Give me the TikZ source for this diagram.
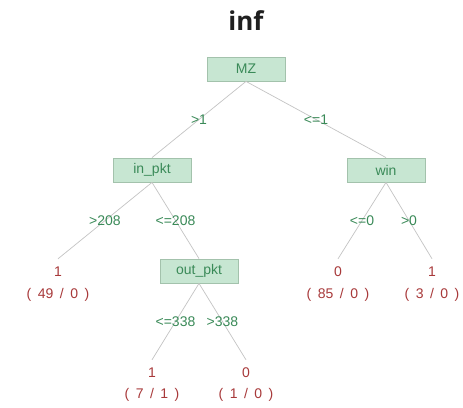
\documentclass[tikz,border=0pt]{standalone}
\usepackage{fontspec}
\setmainfont{Liberation Sans}
\newfontfamily\titlefont{Open Sans}
\definecolor{boxfill}{HTML}{C7E6D2}
\definecolor{boxdraw}{HTML}{A3C2AC}
\definecolor{condgreen}{HTML}{3A8A58}
\definecolor{leafred}{HTML}{A8393A}
\definecolor{edgegrey}{HTML}{C4C4C4}
\newcommand\gp{\hspace{6.5pt}}
\begin{document}
\begin{tikzpicture}[x=1pt,y=-1pt,
  splitbox/.style={draw=boxdraw, fill=boxfill, line width=0.8pt, minimum width=78pt, minimum height=24pt, inner sep=0pt, text=condgreen, font=\fontsize{14}{16}\selectfont},
  leafval/.style={minimum height=26pt, inner sep=0pt, text=leafred, font=\fontsize{14}{16}\selectfont},
  leafcnt/.style={inner sep=0pt, text=leafred, font=\fontsize{14}{16}\selectfont},
  edge/.style={draw=edgegrey, line width=0.7pt},
  cond/.style={midway, inner sep=0pt, text=condgreen, font=\fontsize{14}{16}\selectfont}]
\useasboundingbox (0,0) rectangle (463,407);
\fill[white] (0,0) rectangle (463,407);
\node[font=\titlefont\bfseries\fontsize{26}{30}\selectfont, text=black!88] (title) at (246,21) {inf};
\node[splitbox] (mz) at (246,69) {MZ};
\node[splitbox] (inpkt) at (152,170) {in\_pkt};
\node[splitbox] (win) at (386,170) {win};
\node[splitbox] (outpkt) at (199,271) {out\_pkt};
\node[leafval] (l1) at (58,272) {1};
\node[leafcnt] (c1) at (58,295) {(\gp49\gp/\gp0\gp)};
\node[leafval] (l2) at (152,373) {1};
\node[leafcnt] (c2) at (152,395) {(\gp7\gp/\gp1\gp)};
\node[leafval] (l3) at (246,373) {0};
\node[leafcnt] (c3) at (246,395) {(\gp1\gp/\gp0\gp)};
\node[leafval] (l4) at (338,272) {0};
\node[leafcnt] (c4) at (338,295) {(\gp85\gp/\gp0\gp)};
\node[leafval] (l5) at (432,272) {1};
\node[leafcnt] (c5) at (432,295) {(\gp3\gp/\gp0\gp)};
\path[edge] (mz.south) -- (inpkt.north) node[cond] {>1};
\path[edge] (mz.south) -- (win.north) node[cond] {<=1};
\path[edge] (inpkt.south) -- (l1.north) node[cond] {>208};
\path[edge] (inpkt.south) -- (outpkt.north) node[cond] {<=208};
\path[edge] (outpkt.south) -- (l2.north) node[cond] {<=338};
\path[edge] (outpkt.south) -- (l3.north) node[cond] {>338};
\path[edge] (win.south) -- (l4.north) node[cond] {<=0};
\path[edge] (win.south) -- (l5.north) node[cond] {>0};
\end{tikzpicture}
\end{document}
